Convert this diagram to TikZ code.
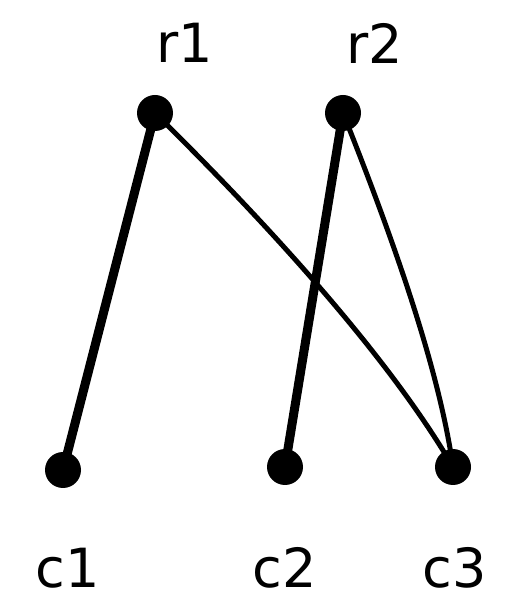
\documentclass[tikz,border=0pt]{standalone}
\usepackage{fontspec}
\setmainfont{DejaVu Sans}
\begin{document}
\begin{tikzpicture}[x=1pt,y=1pt,
  vert/.style={circle,fill=black,inner sep=0pt,minimum size=36pt},
  lab/.style={font=\fontsize{54}{58}\selectfont},
  thick edge/.style={line width=9pt,line cap=round},
  thin edge/.style={line width=5pt,line cap=round}]
\useasboundingbox (0,0) rectangle (521,606);
\node[vert] (r1) at (155,493) {};
\node[vert] (r2) at (343,493) {};
\node[vert] (c1) at (63,136) {};
\node[vert] (c2) at (285,139) {};
\node[vert] (c3) at (453,139) {};
\node[lab] (lr1) at (185,563) {r1};
\node[lab] (lr2) at (375,563) {r2};
\node[lab] (lc1) at (68,38) {c1};
\node[lab] (lc2) at (285,38) {c2};
\node[lab] (lc3) at (455,38) {c3};
\draw[thick edge] (r1.center) -- (c1.center);
\draw[thin edge] (r1.center) .. controls (300,350) and (400,230) .. (c3.center);
\draw[thick edge] (r2.center) -- (c2.center);
\draw[thin edge] (r2.center) .. controls (400,350) and (440,230) .. (c3.center);
\end{tikzpicture}
\end{document}
